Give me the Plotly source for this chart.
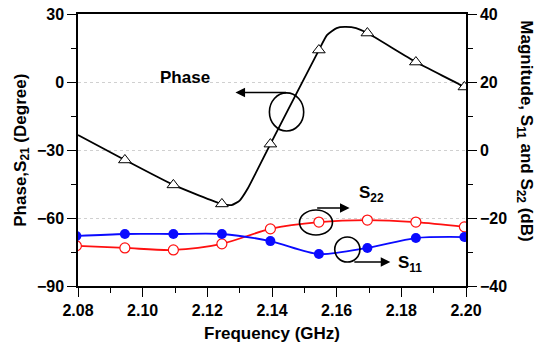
import plotly.graph_objects as go

# ---- data ----
freq_marks = [2.0795, 2.0945, 2.1095, 2.1245, 2.1395, 2.1545, 2.1695, 2.1845, 2.1995]
s11_db = [-25.3, -24.7, -24.7, -24.7, -26.8, -30.6, -28.8, -25.9, -25.6]
s22_db = [-28.2, -28.8, -29.4, -27.6, -23.2, -21.2, -20.6, -21.2, -22.6]

phase_curve_f = [2.080, 2.0945, 2.1095, 2.1245, 2.1275, 2.130, 2.1325, 2.135, 2.1395, 2.1545,
                 2.157, 2.160, 2.1625, 2.166, 2.1695, 2.1845, 2.1995, 2.200]
phase_curve_deg = [-23.4, -34.4, -45.4, -53.8, -54.3, -52.3, -47.0, -40.1, -27.4, 14.1,
                   20.7, 23.8, 24.3, 23.8, 21.6, 8.8, -2.2, -2.8]
phase_mark_f = [2.0945, 2.1095, 2.1245, 2.1395, 2.1545, 2.1695, 2.1845, 2.1995]
phase_mark_deg = [-34.4, -45.4, -53.8, -27.4, 14.1, 21.6, 8.8, -2.2]

x_ticks = [2.08, 2.10, 2.12, 2.14, 2.16, 2.18, 2.20]
phase_ticks = [-90, -60, -30, 0, 30]
mag_ticks = [-40, -20, 0, 20, 40]

FONT = "Liberation Sans, Arial, sans-serif"

fig = go.Figure()

fig.add_trace(go.Scatter(x=phase_curve_f, y=phase_curve_deg, mode="lines",
                         line=dict(color="black", width=1.8, shape="spline", smoothing=0.5),
                         hoverinfo="skip", showlegend=False))
fig.add_trace(go.Scatter(x=phase_mark_f, y=phase_mark_deg, mode="markers",
                         marker=dict(symbol="triangle-up", size=11, color="white",
                                     line=dict(color="black", width=1)),
                         showlegend=False))
fig.add_trace(go.Scatter(x=freq_marks, y=s22_db, mode="lines+markers", yaxis="y2",
                         line=dict(color="#ff1010", width=1.8, shape="spline", smoothing=0.8),
                         marker=dict(symbol="circle", size=10, color="white",
                                     line=dict(color="#ff1010", width=1.2)),
                         showlegend=False))
fig.add_trace(go.Scatter(x=freq_marks, y=s11_db, mode="lines+markers", yaxis="y2",
                         line=dict(color="#0a0aff", width=1.8, shape="spline", smoothing=0.8),
                         marker=dict(symbol="circle", size=10, color="#0a0aff"),
                         showlegend=False))

tickfont = dict(family=FONT, size=16, color="black", weight="bold")

fig.update_layout(
    width=535, height=351,
    margin=dict(l=78, r=69, t=14, b=65),
    paper_bgcolor="white", plot_bgcolor="white",
    font=dict(family=FONT, color="black"),
    showlegend=False,
    xaxis=dict(range=[2.08, 2.20], tickvals=x_ticks, ticktext=[f"{v:.2f}" for v in x_ticks],
               ticks="outside", ticklen=9, tickwidth=1.2, tickcolor="black",
               minor=dict(dtick=0.01, tick0=2.08, ticks="outside", ticklen=5, tickcolor="black", showgrid=False),
               showline=True, linecolor="black", linewidth=1.5, mirror=True,
               showgrid=False, zeroline=False, tickfont=tickfont, automargin=False),
    yaxis=dict(range=[-90, 30], tickvals=phase_ticks,
               ticks="outside", ticklen=9, tickwidth=1.2, tickcolor="black",
               minor=dict(dtick=15, tick0=-90, ticks="outside", ticklen=5, tickcolor="black", showgrid=False),
               showline=True, linecolor="black", linewidth=1.5,
               showgrid=True, gridcolor="#d0d0d0", griddash="dot", gridwidth=1,
               zeroline=False, tickfont=tickfont, automargin=False),
    yaxis2=dict(range=[-40, 40], tickvals=mag_ticks, overlaying="y", side="right",
                ticks="outside", ticklen=9, tickwidth=1.2, tickcolor="black",
                minor=dict(dtick=10, tick0=-40, ticks="outside", ticklen=5, tickcolor="black", showgrid=False),
                showline=True, linecolor="black", linewidth=1.5,
                showgrid=False, zeroline=False, tickfont=tickfont, automargin=False),
)

title_font = dict(family=FONT, size=17, weight="bold")
# axis titles as annotations
fig.add_annotation(text="Frequency (GHz)", xref="paper", yref="paper",
                   x=0.5, y=-0.173, xanchor="center", yanchor="middle",
                   showarrow=False, font=title_font)
fig.add_annotation(text="Phase,S<sub>21</sub> (Degree)", xref="paper", yref="paper",
                   x=-0.145, y=0.5, xanchor="center", yanchor="middle", textangle=-90,
                   showarrow=False, font=title_font)
fig.add_annotation(text="Magnitude, S<sub>11</sub> and S<sub>22</sub> (dB)", xref="paper", yref="paper",
                   x=1.151, y=0.57, xanchor="center", yanchor="middle", textangle=90,
                   showarrow=False, font=title_font)

# "Phase" callout
fig.add_annotation(text="Phase", x=2.1132, y=2.2, xref="x", yref="y", showarrow=False,
                   font=dict(family=FONT, size=17, weight="bold"))
fig.add_shape(type="circle", xref="x", yref="y", x0=2.1392, x1=2.1498, y0=-21.6, y1=-4.8,
              line=dict(color="black", width=1.6))
fig.add_annotation(x=2.1287, y=-4.6, ax=2.1448, ay=-4.6, xref="x", yref="y", axref="x", ayref="y",
                   text="", showarrow=True, arrowhead=2, arrowsize=1.2, arrowwidth=1.6, arrowcolor="black")

# S22 callout
fig.add_shape(type="circle", xref="x", yref="y", x0=2.1485, x1=2.1587, y0=-67.5, y1=-56.5,
              line=dict(color="black", width=1.6))
fig.add_annotation(x=2.1640, y=-55.6, ax=2.1535, ay=-55.6, xref="x", yref="y", axref="x", ayref="y",
                   text="", showarrow=True, arrowhead=2, arrowsize=1.2, arrowwidth=1.6, arrowcolor="black")
fig.add_annotation(text="S<sub>22</sub>", x=2.1662, y=-49.2, xref="x", yref="y", xanchor="left",
                   showarrow=False, font=dict(family=FONT, size=17, weight="bold"))

# S11 callout
fig.add_shape(type="circle", xref="x", yref="y", x0=2.1594, x1=2.1672, y0=-79.4, y1=-68.4,
              line=dict(color="black", width=1.6))
fig.add_annotation(x=2.1766, y=-79.4, ax=2.1650, ay=-79.4, xref="x", yref="y", axref="x", ayref="y",
                   text="", showarrow=True, arrowhead=2, arrowsize=1.2, arrowwidth=1.6, arrowcolor="black")
fig.add_annotation(text="S<sub>11</sub>", x=2.1784, y=-80.5, xref="x", yref="y", xanchor="left",
                   showarrow=False, font=dict(family=FONT, size=17, weight="bold"))

fig.write_html("out.html", config={"displayModeBar": False},
               post_script="document.body.style.margin='0';document.body.style.overflow='hidden';")
